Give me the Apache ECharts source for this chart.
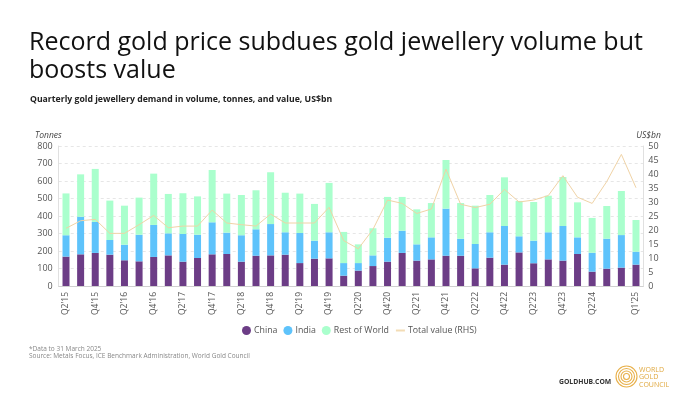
<!DOCTYPE html>
<html><head><meta charset="utf-8">
<script src="https://cdn.jsdelivr.net/npm/echarts@6/dist/echarts.min.js"></script>
<style>html,body{margin:0;padding:0;background:#fff}#c{width:700px;height:394px}</style>
</head><body><div id="c"></div>
<script>
const quarters = ["Q2'15","Q3'15","Q4'15","Q1'16","Q2'16","Q3'16","Q4'16","Q1'17","Q2'17","Q3'17",
"Q4'17","Q1'18","Q2'18","Q3'18","Q4'18","Q1'19","Q2'19","Q3'19","Q4'19","Q1'20",
"Q2'20","Q3'20","Q4'20","Q1'21","Q2'21","Q3'21","Q4'21","Q1'22","Q2'22","Q3'22",
"Q4'22","Q1'23","Q2'23","Q3'23","Q4'23","Q1'24","Q2'24","Q3'24","Q4'24","Q1'25"];
const china = [168,181,189,179,147,141,166,175,139,160,
181,183,139,173,175,179,131,156,158,59,
88,114,139,189,145,152,173,173,101,162,
122,192,130,152,145,183,82,99,105,122];
const india = [122,215,177,84,89,152,183,126,158,133,
183,122,151,151,179,128,172,103,149,72,
43,61,137,127,93,126,269,97,139,145,
221,92,129,155,198,95,108,171,186,74];
const restOfWorld = [239,242,303,225,223,212,293,225,233,219,
299,223,230,223,296,226,225,210,282,178,
107,155,233,193,200,196,278,204,219,213,
278,202,221,209,280,200,199,187,252,181];
const totalValue = [20.6,23.3,23.8,18.8,18.8,21.9,25.2,20.8,21.4,21.4,
27.1,22.5,21.9,21.4,25.7,22.5,22.5,22.5,28.1,16.2,
13.3,20.2,30.7,29.5,25.9,27.5,41.7,29.2,28.0,29.2,
34.5,30.0,30.7,32.3,39.4,31.7,29.5,37.3,47.0,35.1];
const leftTicks = {min:0,max:800,interval:100};
const rightTicks = {min:0,max:50,interval:5};

const FONT = "'Open Sans', 'Noto Sans', sans-serif";
const chart = echarts.init(document.getElementById('c'), null, {renderer:'canvas'});
chart.setOption({
  backgroundColor:'#ffffff',
  animation:false,
  textStyle:{fontFamily:FONT},
  title:[
    {text:'Record gold price subdues gold jewellery volume but\nboosts value', left:29, top:29, padding:0,
     textStyle:{fontFamily:FONT,fontSize:25,fontWeight:'normal',color:'#111',lineHeight:28}},
    {text:'Quarterly gold jewellery demand in volume, tonnes, and value, US$bn', left:30, top:95, padding:0,
     textStyle:{fontFamily:FONT,fontSize:8.7,fontWeight:'bold',color:'#222'}}
  ],
  grid:{left:58.7, right:56.7, top:146, bottom:108, containLabel:false},
  legend:{top:321, left:237, itemGap:6, itemWidth:9, itemHeight:9,
    textStyle:{fontFamily:FONT,fontSize:8.8,color:'#555',padding:[0,0,0,-2]},
    data:[{name:'China',icon:'circle'},{name:'India',icon:'circle'},{name:'Rest of World',icon:'circle'},
          {name:'Total value (RHS)', itemStyle:{opacity:0}, lineStyle:{width:2,color:'#f3dcb5'}}]},
  xAxis:{type:'category', data:quarters,
    axisLine:{show:true,lineStyle:{color:'#d0d0d0'}}, axisTick:{show:false},
    axisLabel:{rotate:90, fontSize:8.5, color:'#555', fontFamily:FONT, margin:6,
      interval:function(i){return (i%2===0 && i!==38) || i===39;}}},
  yAxis:[
    {type:'value', min:leftTicks.min, max:leftTicks.max, interval:leftTicks.interval,
     name:'Tonnes', nameLocation:'end', nameGap:6, nameTextStyle:{fontStyle:'italic',fontSize:8.5,color:'#444',align:'right',padding:[0,-3,0,0]},
     axisLine:{show:true,lineStyle:{color:'#e0e0e0'}}, axisTick:{show:false},
     axisLabel:{fontSize:9,color:'#555',margin:6},
     splitLine:{show:true,lineStyle:{color:'#e6e6e6',type:[3,3]}}},
    {type:'value', min:rightTicks.min, max:rightTicks.max, interval:rightTicks.interval, position:'right',
     name:'US$bn', nameLocation:'end', nameGap:6, nameTextStyle:{fontStyle:'italic',fontSize:8.5,color:'#444',align:'left',padding:[0,0,0,-7]},
     axisLine:{show:true,lineStyle:{color:'#e0e0e0'}}, axisTick:{show:false},
     axisLabel:{fontSize:9,color:'#555',margin:5},
     splitLine:{show:false}}
  ],
  series:[
    {name:'China', type:'bar', stack:'vol', data:china, barWidth:7, itemStyle:{color:'#6c3d86'}},
    {name:'India', type:'bar', stack:'vol', data:india, barWidth:7, itemStyle:{color:'#5ec3fb'}},
    {name:'Rest of World', type:'bar', stack:'vol', data:restOfWorld, barWidth:7, itemStyle:{color:'#aaffcd'}},
    {name:'Total value (RHS)', type:'line', yAxisIndex:1, data:totalValue, symbol:'none', z:5,
     lineStyle:{color:'#f0d3a6',width:1}, itemStyle:{color:'#f0d3a6'}}
  ],
  graphic:[
    {type:'text', left:29, top:346, style:{text:'*Data to 31 March 2025\nSource: Metals Focus, ICE Benchmark Administration, World Gold Council',
      font:'6.5px '+FONT, fill:'#888', lineHeight:7}},
    {type:'text', left:559, top:379, style:{text:'GOLDHUB.COM', font:'bold 6.8px '+FONT, fill:'#333'}},
    {type:'circle', shape:{cx:626.5,cy:376.5,r:10.5}, style:{fill:'none',stroke:'#e8b04a',lineWidth:1.1}},
    {type:'circle', shape:{cx:626.5,cy:376.5,r:8}, style:{fill:'none',stroke:'#e8b04a',lineWidth:1.1}},
    {type:'circle', shape:{cx:626.5,cy:376.5,r:5.5}, style:{fill:'none',stroke:'#e8b04a',lineWidth:1.1}},
    {type:'circle', shape:{cx:626.5,cy:376.5,r:3}, style:{fill:'none',stroke:'#e8b04a',lineWidth:1.1}},
    {type:'text', left:639, top:366, style:{text:'WORLD\nGOLD\nCOUNCIL', font:'7px '+FONT, fill:'#e0a83e', lineHeight:7.5}}
  ]
});
</script></body></html>
